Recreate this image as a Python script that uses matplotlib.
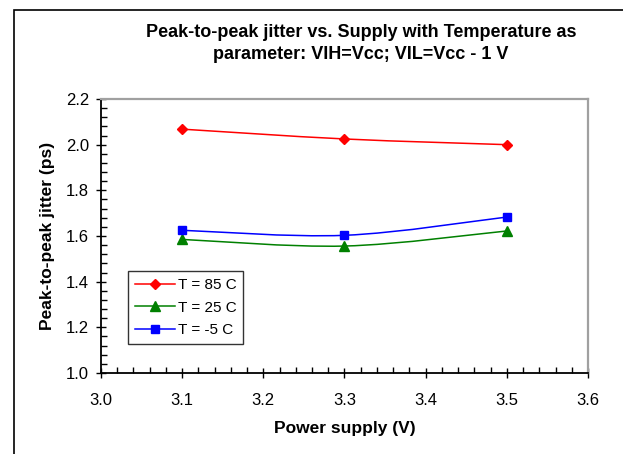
"""
Peak-to-peak jitter vs. supply voltage, one curve per temperature.
"""
import matplotlib
matplotlib.use("Agg")
import matplotlib.pyplot as plt
from matplotlib.patches import PathPatch, Rectangle
from matplotlib.path import Path
from matplotlib.ticker import MultipleLocator, FormatStrFormatter

plt.rcParams["font.family"] = ["Liberation Sans", "DejaVu Sans"]

supply_v = [3.1, 3.3, 3.5]
jitter_85c = [2.068, 2.025, 2.000]
jitter_25c = [1.585, 1.556, 1.622]
jitter_m5c = [1.625, 1.603, 1.683]

series = [
    ("T = 85 C", jitter_85c, "#ff0000", "D", 5.5),
    ("T = 25 C", jitter_25c, "#008000", "^", 7),
    ("T = -5 C", jitter_m5c, "#0000ff", "s", 6),
]


def smooth_path(xs, ys):
    """Excel-like smoothed line as a cubic Bezier path through the points."""
    pts = list(zip(xs, ys))
    verts = [pts[0]]
    codes = [Path.MOVETO]
    n = len(pts)
    for i in range(n - 1):
        p0 = pts[max(i - 1, 0)]
        p1 = pts[i]
        p2 = pts[i + 1]
        p3 = pts[min(i + 2, n - 1)]
        c1 = (p1[0] + (p2[0] - p0[0]) / 6, p1[1] + (p2[1] - p0[1]) / 6)
        c2 = (p2[0] - (p3[0] - p1[0]) / 6, p2[1] - (p3[1] - p1[1]) / 6)
        verts += [c1, c2, p2]
        codes += [Path.CURVE4] * 3
    return Path(verts, codes)


fig = plt.figure(figsize=(6.23, 4.54), dpi=100)
W, H = 623, 454
AX_L, AX_R, AX_T, AX_B = 101, 588, 99, 373
ax = fig.add_axes([AX_L / W, 1 - AX_B / H, (AX_R - AX_L) / W, (AX_B - AX_T) / H])

# outer chart border (clipped at the right and bottom in the original)
fig.patches.append(Rectangle((14 / W, -0.1), 1.2, 1 - 10 / H + 0.1,
                             transform=fig.transFigure, fill=False,
                             edgecolor="black", linewidth=1.2))

for label, vals, color, marker, ms in series:
    ax.add_patch(PathPatch(smooth_path(supply_v, vals), fill=False,
                           edgecolor=color, linewidth=1.1, zorder=2))
    ax.plot(supply_v, vals, linestyle="none", marker=marker, markersize=ms,
            color=color, zorder=3)

handles = [plt.Line2D([], [], color=c, marker=m, markersize=ms, linewidth=1.1)
           for _, _, c, m, ms in series]
leg = ax.legend(handles, [s[0] for s in series], loc="lower left",
                bbox_to_anchor=((128 - AX_L) / (AX_R - AX_L),
                                (AX_B - 344) / (AX_B - AX_T)),
                fontsize=11, frameon=True, fancybox=False, borderaxespad=0,
                handlelength=2.6, handletextpad=0.2, labelspacing=0.55,
                borderpad=0.45)
leg.get_frame().set_edgecolor("black")
leg.get_frame().set_linewidth(1.0)

ax.set_xlim(3.0, 3.6)
ax.set_ylim(1.0, 2.2)
ax.xaxis.set_major_locator(MultipleLocator(0.1))
ax.xaxis.set_minor_locator(MultipleLocator(0.02))
ax.yaxis.set_major_locator(MultipleLocator(0.2))
ax.yaxis.set_minor_locator(MultipleLocator(0.04))
ax.xaxis.set_major_formatter(FormatStrFormatter("%.1f"))
ax.yaxis.set_major_formatter(FormatStrFormatter("%.1f"))
ax.tick_params(which="major", direction="inout", length=7, width=1.0,
               labelsize=12)
ax.tick_params(axis="x", which="major", pad=11)
ax.tick_params(axis="y", which="major", pad=5)
ax.tick_params(which="minor", direction="in", length=4, width=1.0)
ax.tick_params(axis="x", which="both", top=False)
ax.tick_params(axis="y", which="both", right=False)

for side in ("top", "right"):
    ax.spines[side].set_color("#a0a0a0")
    ax.spines[side].set_linewidth(1.6)
for side in ("left", "bottom"):
    ax.spines[side].set_linewidth(1.3)

ax.set_xlabel("Power supply (V)", fontsize=12.5, fontweight="bold", va="center")
ax.xaxis.set_label_coords(0.5, -(428 - AX_B) / (AX_B - AX_T))
ax.set_ylabel("Peak-to-peak jitter (ps)", fontsize=12.5, fontweight="bold",
              va="center")
ax.yaxis.set_label_coords(-(AX_L - 48) / (AX_R - AX_L), 0.5)

fig.text(361 / W, 1 - 43.5 / H,
         "Peak-to-peak jitter vs. Supply with Temperature as\n"
         "parameter: VIH=Vcc; VIL=Vcc - 1 V",
         ha="center", va="center", fontsize=13, fontweight="bold",
         linespacing=1.4)

fig.savefig("out.png", dpi=100)
plt.close(fig)
